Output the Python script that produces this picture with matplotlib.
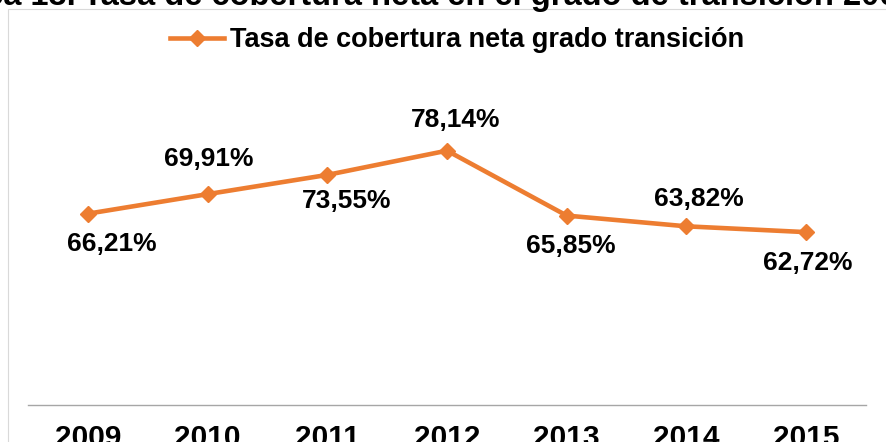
import matplotlib.pyplot as plt
from matplotlib.patches import Rectangle

# Data
years = ['2009', '2010', '2011', '2012', '2013', '2014', '2015']
cobertura = [66.21, 69.91, 73.55, 78.14, 65.85, 63.82, 62.72]
etiquetas = ['66,21%', '69,91%', '73,55%', '78,14%', '65,85%', '63,82%', '62,72%']
serie = 'Tasa de cobertura neta grado transición'
titulo_pre = 'Gráfica 13.'
titulo = 'Tasa de cobertura neta en el grado de transición 2009-2015'

# label offsets in points (dx, dy)
offsets = [(17, -22), (1, 25), (14, -19), (6, 22), (3, -22), (9, 20), (1, -22)]

plt.rcParams['font.family'] = ['Liberation Sans', 'DejaVu Sans']
color = '#ED7D31'

W, H = 886, 442
fig = plt.figure(figsize=(W / 100, H / 100), dpi=100)

# chart area border
fig.patches.append(Rectangle((8 / W, -0.1), 1.0, (H - 9) / H + 0.1,
                             transform=fig.transFigure, fill=False,
                             edgecolor='#d9d9d9', lw=0.8))

# clipped title at the top
fig.text(76 / W, 1 - 5 / H, titulo_pre, fontsize=23.5, fontweight='bold',
         ha='right', va='baseline')
fig.text(83 / W, 1 - 5 / H, titulo, fontsize=23.5, fontweight='bold',
         ha='left', va='baseline')

ax = fig.add_axes([28 / W, (H - 405) / H, (866 - 28) / W, (405 - 88) / H])
x = list(range(len(years)))
ax.plot(x, cobertura, color=color, lw=3.3, marker='D', markersize=8.5,
        label=serie)

for xi, yi, lab, (dx, dy) in zip(x, cobertura, etiquetas, offsets):
    ax.annotate(lab, (xi, yi), xytext=(dx, dy), textcoords='offset points',
                ha='center', va='center', fontsize=19, fontweight='bold')

ax.set_xlim(-0.5, len(years) - 0.5)
ax.set_ylim(30, 90)
ax.set_xticks(x)
ax.set_xticklabels(years, fontsize=21.5, fontweight='bold')
ax.set_yticks([])
ax.tick_params(axis='x', length=0, pad=14)
for s in ['top', 'left', 'right']:
    ax.spines[s].set_visible(False)
ax.spines['bottom'].set_color('#a6a6a6')
ax.spines['bottom'].set_linewidth(1)
ax.patch.set_alpha(0)

leg = fig.legend(loc='center', bbox_to_anchor=(457 / W, 1 - 40 / H),
                 frameon=False, prop={'size': 19.5, 'weight': 'bold'},
                 handlelength=2.0, handletextpad=0.2)

fig.savefig('out.png', dpi=100)
